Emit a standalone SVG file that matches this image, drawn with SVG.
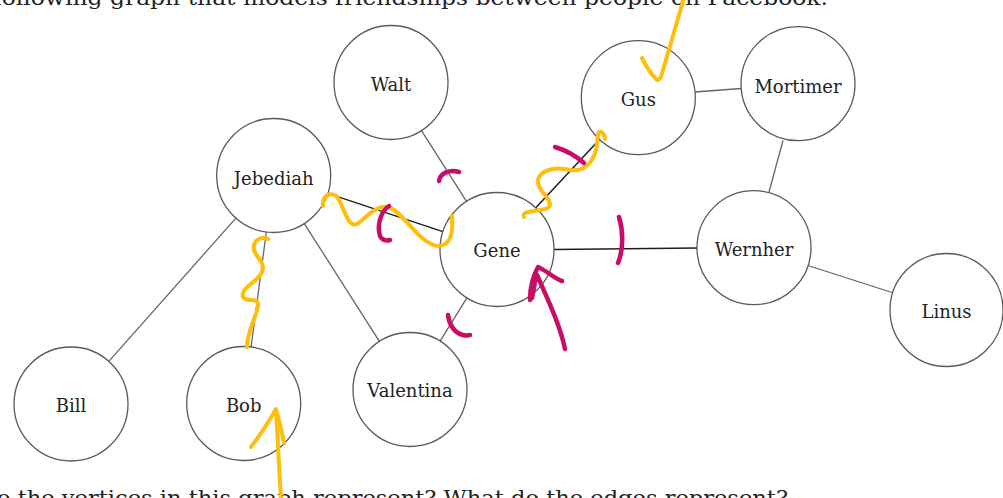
<svg xmlns="http://www.w3.org/2000/svg" width="1003" height="498" viewBox="0 0 1003 498">
<style>
.bg{fill:#fff}
.node circle{fill:#fff;stroke:#5a5a5a;stroke-width:1.3}
.node text{font-family:"DejaVu Serif","Liberation Serif",serif;font-size:18px;fill:#222;text-anchor:middle}
.edge{stroke:#666;stroke-width:1.3;fill:none}
.edge.dark{stroke:#1e1e1e;stroke-width:1.5}
.para{font-family:"DejaVu Serif","Liberation Serif",serif;font-size:21px;fill:#222}
.yel{fill:none;stroke:#FDBE0C;stroke-width:4;stroke-linecap:round;stroke-linejoin:round}
.mag{fill:none;stroke:#C80C68;stroke-width:4.5;stroke-linecap:round;stroke-linejoin:round}
</style>
<rect class="bg" x="0" y="0" width="1003" height="498"/>
<text class="para" x="-7" y="5" textLength="835" lengthAdjust="spacingAndGlyphs">following graph that models friendships between people on Facebook.</text>
<text class="para" x="-3" y="505" textLength="791" lengthAdjust="spacingAndGlyphs">o the vertices in this graph represent? What do the edges represent?</text>
<g id="connectors">
<line class="edge" x1="421.5" y1="130.6" x2="466.5" y2="201.4"/>
<line class="edge dark" x1="327.8" y1="193.4" x2="442.9" y2="231.6"/>
<line class="edge dark" x1="535.8" y1="207.8" x2="599.5" y2="139.4"/>
<line class="edge dark" x1="554" y1="249.4" x2="697" y2="248"/>
<line class="edge" x1="466.9" y1="297.9" x2="440.1" y2="341.1"/>
<line class="edge" x1="304.3" y1="223.6" x2="379.4" y2="341.4"/>
<line class="edge" x1="235.9" y1="218.1" x2="108.8" y2="361.4"/>
<line class="edge" x1="266.3" y1="232" x2="251.1" y2="347"/>
<line class="edge" x1="695" y1="92" x2="741" y2="88.5"/>
<line class="edge" x1="783" y1="140.5" x2="769" y2="192"/>
<line class="edge" x1="808" y1="265.5" x2="892" y2="292.5"/>
</g>
<g id="walt" class="node"><circle cx="391" cy="82.5" r="57"/><text x="391" y="91">Walt</text></g>
<g id="gus" class="node"><circle cx="638.3" cy="97.7" r="57"/><text x="638.3" y="106">Gus</text></g>
<g id="mortimer" class="node"><circle cx="798" cy="83.7" r="57"/><text x="798" y="92.5">Mortimer</text></g>
<g id="jebediah" class="node"><circle cx="273.7" cy="175.5" r="57"/><text x="273.7" y="185">Jebediah</text></g>
<g id="gene" class="node"><circle cx="497" cy="249.5" r="57"/><text x="497" y="256.5">Gene</text></g>
<g id="wernher" class="node"><circle cx="754" cy="247.7" r="57"/><text x="754" y="256">Wernher</text></g>
<g id="linus" class="node"><circle cx="946.5" cy="310" r="56.5"/><text x="946.5" y="318">Linus</text></g>
<g id="bill" class="node"><circle cx="71" cy="404" r="57"/><text x="71" y="411.7">Bill</text></g>
<g id="bob" class="node"><circle cx="243.7" cy="403.5" r="57"/><text x="243.7" y="411.5">Bob</text></g>
<g id="valentina" class="node"><circle cx="410" cy="389.5" r="57"/><text x="410" y="397.3">Valentina</text></g>
<g id="annotations">
<path class="yel" d="M 642 58 C 646 66 652 75 656 79 C 659 82 661 78 663 70 L 684 -2"/>
<path class="yel" d="M 323 206 C 321 196 332 190 338 198 C 345 210 348 228 357 224 C 366 218 375 205 388 207 C 402 210 420 245 438 246 C 452 246 453 230 452 216"/>
<path class="yel" d="M 524 217 C 520 210 540 212 548 208 C 556 202 536 190 538 180 C 540 170 556 166 570 170 C 582 172 592 165 596 150 C 598 140 597 130 601 132 C 604 134 605 137 605 139"/>
<path class="yel" d="M 268 239 C 262 236 252 240 254 250 C 256 258 266 262 262 272 C 258 282 240 288 243 297 C 246 303 260 296 258 306 C 256 318 247 332 247 347"/>
<path class="yel" d="M 281 500 L 276 410 M 251 447 C 260 435 270 420 276 409 C 279 420 282 432 284 443"/>
<path class="mag" d="M 439 181 C 440 173 450 169 459 172"/>
<path class="mag" d="M 389 206 C 380 212 377 226 380 236 C 382 240 386 241 390 240"/>
<path class="mag" d="M 555 147 C 565 150 576 156 584 163"/>
<path class="mag" d="M 619 217 C 623 230 624 248 618 263"/>
<path class="mag" d="M 448 315 C 449 324 454 333 463 335 C 466 336 468 335 470 335"/>
<path class="mag" d="M 565 349 C 560 325 548 300 537 275 M 530 300 C 530 290 532 278 538 267 C 546 270 553 278 562 281 M 532 298 L 536 276"/>
</g>
</svg>
